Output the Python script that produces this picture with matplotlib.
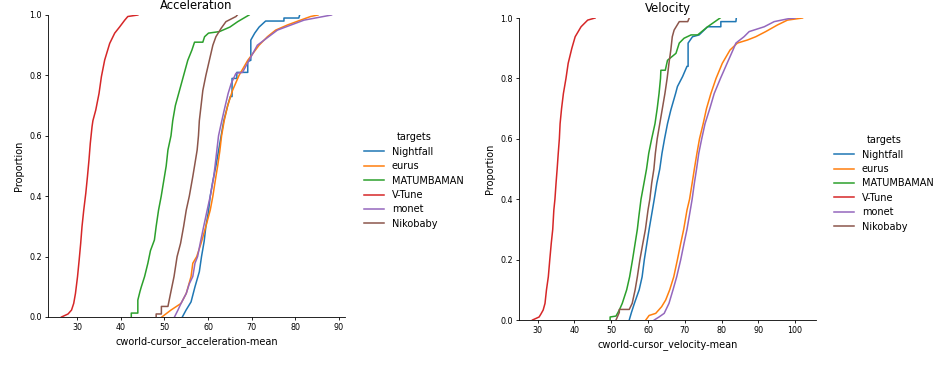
import matplotlib.pyplot as plt
from matplotlib.lines import Line2D

targets = ['Nightfall', 'eurus', 'MATUMBAMAN', 'V-Tune', 'monet', 'Nikobaby']
colors = ['#1f77b4', '#ff7f0e', '#2ca02c', '#d62728', '#9467bd', '#8c564b']

# ECDF curves: x = metric value, p = cumulative proportion
# --- acceleration ---
acc_nightfall_x = [54.1, 54.96, 56.1, 57.0, 58.0, 58.5, 59.1, 59.5, 60.1, 60.5, 61.1, 61.8, 62.4, 63.0, 63.6, 64.5,
                   65.1, 65.5, 65.5, 66.6, 66.6, 69.1, 69.1, 69.8, 69.8, 70.7, 71.7, 73.2, 77.4, 77.4, 80.8, 81.0]
acc_nightfall_p = [0, 0.023, 0.05, 0.1, 0.15, 0.2, 0.25, 0.3, 0.35, 0.4, 0.45, 0.5, 0.55, 0.6, 0.65, 0.7,
                   0.73, 0.73, 0.79, 0.79, 0.81, 0.81, 0.846, 0.85, 0.917, 0.94, 0.96, 0.98, 0.98, 0.99, 0.99, 1.0]
acc_eurus_x = [49.4, 51.5, 53.8, 55.0, 56.1, 56.5, 57.4, 58.4, 59.5, 60.5, 61.1, 61.8, 62.2, 62.7, 63.1, 63.7,
               64.5, 65.6, 67.1, 69.1, 71.7, 73.6, 75.5, 78.2, 81.2, 83.5, 85.2]
acc_eurus_p = [0, 0.023, 0.045, 0.078, 0.134, 0.178, 0.2, 0.244, 0.3, 0.354, 0.4, 0.465, 0.5, 0.55, 0.6, 0.65,
               0.7, 0.75, 0.8, 0.85, 0.9, 0.928, 0.95, 0.967, 0.983, 0.995, 1.0]
acc_matumbaman_x = [42.4, 42.4, 43.9, 43.9, 44.4, 44.7, 45.45, 46.2, 46.8, 47.7, 48.1, 48.65, 49.26, 49.6, 50.4,
                    50.8, 51.5, 51.9, 52.5, 53.45, 54.4, 55.35, 56.3, 56.9, 58.8, 59.2, 60.1, 62.6, 65.0, 66.8, 69.4]
acc_matumbaman_p = [0, 0.013, 0.013, 0.056, 0.085, 0.1, 0.134, 0.178, 0.22, 0.255, 0.3, 0.354, 0.4, 0.43, 0.5,
                    0.553, 0.6, 0.65, 0.7, 0.75, 0.8, 0.85, 0.884, 0.91, 0.91, 0.928, 0.94, 0.945, 0.96, 0.978, 1.0]
acc_vtune_x = [26.4, 27.9, 28.7, 29.2, 29.6, 30.07, 30.45, 30.8, 31.1, 31.5, 31.97, 32.35, 32.7, 33.0, 33.4,
               33.6, 34.25, 35.0, 35.55, 36.3, 37.45, 38.6, 39.7, 40.9, 41.6, 43.9]
acc_vtune_p = [0, 0.01, 0.023, 0.045, 0.078, 0.133, 0.189, 0.244, 0.299, 0.354, 0.41, 0.465, 0.52, 0.575, 0.63,
               0.65, 0.685, 0.74, 0.796, 0.851, 0.906, 0.94, 0.96, 0.983, 0.995, 1.0]
acc_monet_x = [52.3, 53.1, 53.8, 55.0, 55.7, 56.5, 57.0, 57.6, 58.2, 59.0, 59.8, 60.5, 61.3, 61.6, 62.0, 62.4,
               63.0, 63.7, 64.6, 65.3, 66.4, 67.9, 69.4, 71.3, 75.9, 82.0, 88.3]
acc_monet_p = [0, 0.023, 0.045, 0.078, 0.11, 0.134, 0.178, 0.2, 0.244, 0.3, 0.354, 0.4, 0.465, 0.5, 0.55, 0.6,
               0.64, 0.685, 0.74, 0.773, 0.807, 0.81, 0.85, 0.9, 0.95, 0.983, 1.0]
acc_nikobaby_x = [48.1, 48.1, 49.3, 49.3, 50.8, 51.4, 52.2, 52.9, 53.7, 54.4, 55.0, 55.7, 56.5, 56.9, 57.5, 57.8,
                  58.0, 58.4, 58.8, 59.5, 60.3, 61.1, 61.8, 63.0, 64.1, 66.4, 66.7]
acc_nikobaby_p = [0, 0.01, 0.01, 0.035, 0.035, 0.078, 0.134, 0.2, 0.244, 0.3, 0.354, 0.4, 0.465, 0.5, 0.553, 0.6,
                  0.65, 0.7, 0.75, 0.8, 0.85, 0.9, 0.928, 0.956, 0.978, 0.995, 1.0]

# --- velocity ---
vel_nightfall_x = [54.9, 55.5, 56.3, 57.6, 58.4, 59.0, 59.7, 60.3, 61.2, 61.7, 62.4, 63.2, 63.8, 64.5, 65.3, 66.2,
                   67.5, 68.0, 69.4, 70.6, 70.9, 70.9, 72.1, 73.9, 76.2, 79.8, 79.8, 83.9, 84.0]
vel_nightfall_p = [0, 0.025, 0.055, 0.1, 0.143, 0.2, 0.254, 0.3, 0.364, 0.4, 0.453, 0.5, 0.552, 0.6, 0.65, 0.695,
                   0.75, 0.773, 0.806, 0.84, 0.84, 0.917, 0.938, 0.944, 0.971, 0.971, 0.988, 0.988, 1.0]
vel_eurus_x = [59.4, 60.3, 62.1, 63.7, 64.8, 65.9, 67.0, 68.0, 68.9, 69.7, 70.6, 71.3, 72.0, 72.6, 73.3, 74.0,
               75.0, 75.9, 77.1, 78.5, 80.2, 82.3, 84.3, 87.0, 89.3, 92.0, 95.2, 97.9, 102.0]
vel_eurus_p = [0, 0.015, 0.022, 0.044, 0.066, 0.1, 0.143, 0.2, 0.254, 0.3, 0.364, 0.4, 0.453, 0.5, 0.552, 0.6,
               0.65, 0.7, 0.75, 0.8, 0.85, 0.894, 0.917, 0.927, 0.938, 0.955, 0.977, 0.993, 1.0]
vel_matumbaman_x = [49.7, 49.7, 51.3, 52.2, 53.0, 54.2, 55.0, 55.8, 56.5, 57.1, 57.5, 58.1, 58.9, 59.6, 60.2, 61.0,
                    61.9, 62.5, 63.0, 63.4, 63.5, 64.7, 65.3, 67.6, 68.5, 69.8, 71.7, 73.5, 76.2, 79.6]
vel_matumbaman_p = [0, 0.01, 0.013, 0.033, 0.055, 0.1, 0.143, 0.2, 0.254, 0.3, 0.342, 0.4, 0.453, 0.5, 0.552, 0.6,
                    0.65, 0.7, 0.75, 0.8, 0.827, 0.827, 0.86, 0.883, 0.917, 0.933, 0.944, 0.944, 0.971, 1.0]
vel_vtune_x = [28.6, 30.4, 30.9, 31.5, 32.0, 32.4, 32.9, 33.3, 33.7, 34.1, 34.4, 34.7, 35.0, 35.3, 35.6, 35.9,
               36.1, 36.5, 37.0, 37.7, 38.3, 39.3, 40.2, 41.8, 43.6, 45.6]
vel_vtune_p = [0, 0.01, 0.02, 0.033, 0.055, 0.1, 0.143, 0.2, 0.254, 0.3, 0.364, 0.4, 0.453, 0.5, 0.552, 0.6,
               0.65, 0.7, 0.75, 0.8, 0.85, 0.9, 0.938, 0.971, 0.993, 1.0]
vel_monet_x = [61.7, 63.0, 64.4, 65.7, 66.8, 67.8, 68.9, 69.8, 70.6, 71.5, 72.0, 72.6, 73.2, 73.8, 74.6, 75.5,
               76.8, 78.0, 79.7, 81.5, 83.1, 83.9, 86.1, 87.5, 91.6, 94.3, 97.9, 100.0]
vel_monet_p = [0, 0.01, 0.022, 0.055, 0.1, 0.143, 0.2, 0.254, 0.3, 0.364, 0.4, 0.453, 0.5, 0.552, 0.6, 0.65,
               0.7, 0.75, 0.8, 0.85, 0.894, 0.917, 0.938, 0.955, 0.971, 0.988, 0.997, 1.0]
vel_nikobaby_x = [51.3, 52.2, 52.2, 54.9, 55.7, 56.5, 57.1, 57.8, 58.6, 59.3, 60.0, 60.5, 61.0, 61.6, 62.0, 62.5,
                  63.2, 63.9, 64.6, 65.2, 65.7, 66.2, 66.6, 67.1, 68.5, 70.8, 71.2]
vel_nikobaby_p = [0, 0.025, 0.035, 0.035, 0.055, 0.1, 0.143, 0.2, 0.254, 0.3, 0.364, 0.4, 0.453, 0.5, 0.552, 0.6,
                  0.65, 0.7, 0.75, 0.8, 0.85, 0.894, 0.938, 0.96, 0.988, 0.988, 1.0]

acc_curves = [(acc_nightfall_x, acc_nightfall_p), (acc_eurus_x, acc_eurus_p),
              (acc_matumbaman_x, acc_matumbaman_p), (acc_vtune_x, acc_vtune_p),
              (acc_monet_x, acc_monet_p), (acc_nikobaby_x, acc_nikobaby_p)]
vel_curves = [(vel_nightfall_x, vel_nightfall_p), (vel_eurus_x, vel_eurus_p),
              (vel_matumbaman_x, vel_matumbaman_p), (vel_vtune_x, vel_vtune_p),
              (vel_monet_x, vel_monet_p), (vel_nikobaby_x, vel_nikobaby_p)]

fig = plt.figure(figsize=(9.51, 3.67), dpi=100)
ax1 = fig.add_axes([48 / 951, 50 / 367, 297 / 951, 302 / 367])
ax2 = fig.add_axes([519 / 951, 47 / 367, 297 / 951, 302 / 367])

panels = [(ax1, acc_curves, 'Acceleration', 'cworld-cursor_acceleration-mean', (355 / 951, 0.508)),
          (ax2, vel_curves, 'Velocity', 'cworld-cursor_velocity-mean', (825 / 951, 0.500))]

handles = [Line2D([], [], color=c, lw=1.1) for c in colors]

for ax, curves, title, xlabel, anchor in panels:
    for (xs, ps), c in zip(curves, colors):
        ax.plot(xs, ps, color=c, lw=1.1)
    ax.set_ylim(0, 1)
    ax.set_title(title, fontsize=8.4, pad=4.5)
    ax.set_xlabel(xlabel, fontsize=7, labelpad=3)
    ax.set_ylabel('Proportion', fontsize=7, labelpad=4)
    ax.tick_params(labelsize=5.8, length=2.5, width=0.6, pad=2)
    ax.spines['top'].set_visible(False)
    ax.spines['right'].set_visible(False)
    for s in ['left', 'bottom']:
        ax.spines[s].set_linewidth(0.6)
    fig.legend(handles, targets, title='targets', loc='center left', bbox_to_anchor=anchor,
               frameon=False, fontsize=7, title_fontsize=7, labelspacing=0.45,
               handlelength=2.1, handletextpad=0.8)

fig.savefig('out.png', dpi=100)
